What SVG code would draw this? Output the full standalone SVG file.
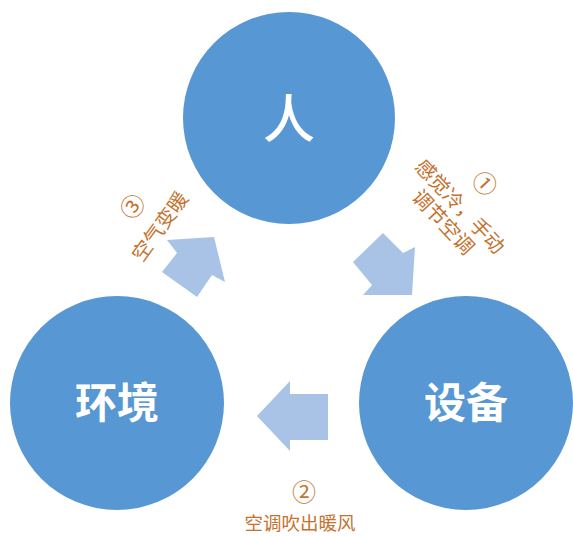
<svg xmlns="http://www.w3.org/2000/svg" width="573" height="537" viewBox="0 0 573 537">
  <style>
    .node circle { fill: #5797D3; }
    .node text { fill: #FFFFFF; font-family: "Noto Sans CJK SC", "Noto Sans", sans-serif; text-anchor: middle; }
    .arrow { fill: #A9C3E6; }
    .lbl { fill: #C4722E; font-family: "Noto Sans CJK SC", "Noto Sans", sans-serif; text-anchor: middle; font-size: 20px; }
    .num { font-size: 24px; }
  </style>
  <rect width="573" height="537" fill="#FFFFFF"/>
  <g id="node-ren" class="node">
    <circle cx="289" cy="118" r="106"/>
    <text x="289" y="138" font-size="52" font-weight="500">人</text>
  </g>
  <g id="node-huanjing" class="node">
    <circle cx="117" cy="403" r="107"/>
    <text x="117" y="418" font-size="42" font-weight="bold">环境</text>
  </g>
  <g id="node-shebei" class="node">
    <circle cx="466" cy="403" r="107"/>
    <text x="466" y="418" font-size="42" font-weight="bold">设备</text>
  </g>
  <g id="connectors">
    <polygon class="arrow" points="353,262 383,233 403,253 415,247 412,295 363,295 372,285"/>
    <polygon class="arrow" points="257,416 290,381 290,394 328,394 328,440 290,440 290,451"/>
    <polygon class="arrow" points="214,237 225,282 212,275 197,297 162,272 177,253 167,240"/>
  </g>
  <g id="label-1" class="lbl" transform="translate(460,206.5) rotate(47)">
    <text class="num" x="0" y="-25">①</text>
    <text x="0" y="7">感觉冷，手动</text>
    <text x="0" y="30">调节空调</text>
  </g>
  <g id="label-2" class="lbl">
    <text class="num" x="304" y="501">②</text>
    <text x="300" y="530" font-size="18.5">空调吹出暖风</text>
  </g>
  <g id="label-3" class="lbl" transform="translate(160,226.5) rotate(-54)">
    <text class="num" x="0" y="-25">③</text>
    <text x="0" y="7">空气变暖</text>
  </g>
</svg>
